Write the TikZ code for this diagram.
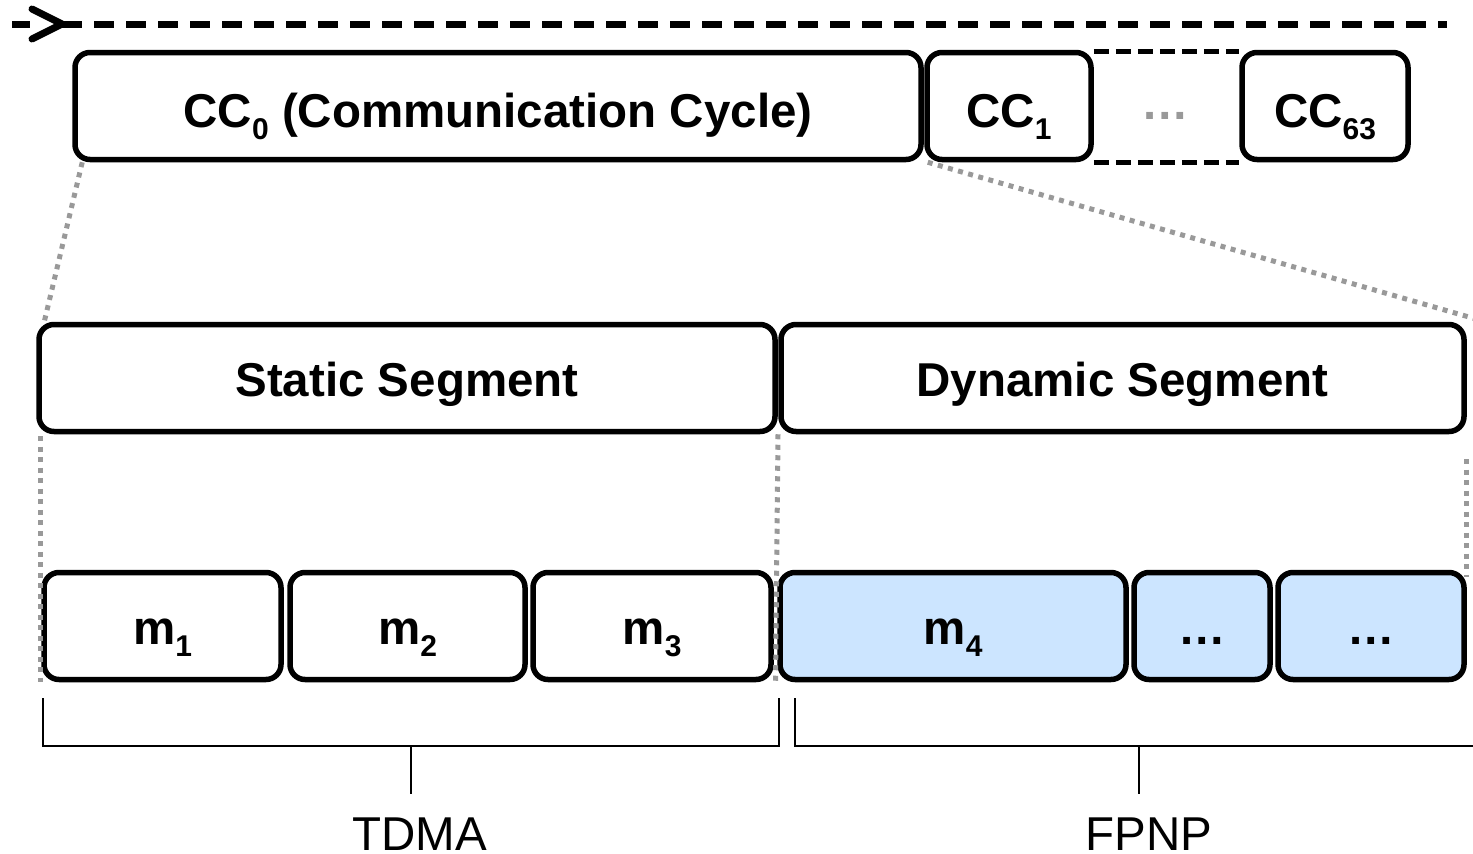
\documentclass[tikz,border=0pt]{standalone}
\usepackage{fontspec}
\setmainfont{Liberation Sans}
\usetikzlibrary{calc}
\definecolor{lblue}{HTML}{CCE5FF}
\definecolor{dgray}{HTML}{999999}
\newcommand\sbsc[1]{\raisebox{-12pt}{\fontsize{30}{30}\selectfont #1}}
\begin{document}
\begin{tikzpicture}[x=1pt,y=-1pt,
  blk/.style={draw=black, line width=5.5pt, rounded corners=15pt, inner sep=0pt, fill=white,
    font=\fontsize{47.5}{50}\selectfont\bfseries, text height=36pt, text depth=0pt, minimum height=107pt},
  ccblk/.style={blk, text height=42pt},
  dyn/.style={blk, fill=lblue},
  gdot/.style={draw=dgray, line width=5pt, dash pattern=on 5pt off 5.5pt},
  cdash/.style={draw=black, line width=5pt, dash pattern=on 15pt off 7pt},
  tdash/.style={draw=black, line width=7pt, dash pattern=on 20pt off 12pt},
  brk/.style={draw=black, line width=2.2pt},
  lab/.style={font=\fontsize{47.5}{50}\selectfont, anchor=base, inner sep=0pt}]
\useasboundingbox (0,0) rectangle (1473,854);
\clip (0,0) rectangle (1473,854);

% top timeline
\coordinate (tS) at (12,24);
\coordinate (tA) at (30,24);
\coordinate (tB) at (62,24);
\coordinate (tE) at (1447,24);
\draw[tdash] (tB) -- (tE);
\draw[black, line width=7pt] (tS) -- (tA);
\draw[black, line width=7pt, line cap=round, line join=round] (32,9) -- (tB) -- (32,39);

% communication cycles
\node[ccblk, minimum width=846pt] (cc0) at (498,106) {CC\sbsc{0} (Communication Cycle)};
\node[ccblk, minimum width=164pt] (cc1) at (1009,106) {CC\sbsc{1}};
\node[ccblk, minimum width=166pt] (cc63) at (1325,106) {CC\sbsc{63}};
\draw[cdash] ([yshift=-2pt]cc1.north east) -- ([yshift=-2pt]cc63.north west);
\draw[cdash] (cc1.south east) -- (cc63.south west);
\node[lab, text=dgray, font=\fontsize{47.5}{50}\selectfont\bfseries] (ell) at (1165,119) {…};

% segments
\node[blk, minimum width=736pt] (static) at (407,378) {Static Segment};
\node[blk, minimum width=683pt] (dynamic) at (1122.5,378) {Dynamic Segment};

% messages
\node[blk, minimum width=237pt] (m1) at (162.5,626) {m\sbsc{1}};
\node[blk, minimum width=235pt] (m2) at (407.5,626) {m\sbsc{2}};
\node[blk, minimum width=238pt] (m3) at (652,626) {m\sbsc{3}};
\node[dyn, minimum width=346pt] (m4) at (953,626) {m\sbsc{4}};
\node[dyn, minimum width=136pt] (d1) at (1202,626) {…};
\node[dyn, minimum width=186pt] (d2) at (1371,626) {…};

% gray zoom lines
\coordinate (zR) at (1490,323);
\draw[gdot] ([xshift=10pt]cc0.south west) -- ([xshift=8pt]static.north west);
\draw[gdot] ([xshift=4pt]cc0.south east) -- (zR);
\draw[gdot] ([xshift=4pt,yshift=-2pt]static.south west) -- ([xshift=-1pt]m1.south west);
\draw[gdot] ($(static.south east)!0.5!(dynamic.south west)$) -- ($(m3.south east)!0.5!(m4.south west)$);
\coordinate (rz1) at (1466,459);
\coordinate (rz2) at (1466,577);
\draw[gdot] (rz1) -- (rz2);

% brackets
\coordinate (b1a) at (43,698);
\coordinate (b1b) at (43,746);
\coordinate (b1c) at (779,746);
\coordinate (b1d) at (779,698);
\coordinate (b1m) at (411,746);
\coordinate (b1t) at (411,794);
\draw[brk] (b1a) -- (b1b) -- (b1c) -- (b1d);
\draw[brk] (b1m) -- (b1t);
\coordinate (b2a) at (795,698);
\coordinate (b2b) at (795,746);
\coordinate (b2c) at (1480,746);
\coordinate (b2m) at (1139,746);
\coordinate (b2t) at (1139,794);
\draw[brk] (b2a) -- (b2b) -- (b2c);
\draw[brk] (b2m) -- (b2t);
\node[lab] (tdma) at (419.5,850) {TDMA};
\node[lab] (fpnp) at (1149,850) {FPNP};
\end{tikzpicture}
\end{document}
